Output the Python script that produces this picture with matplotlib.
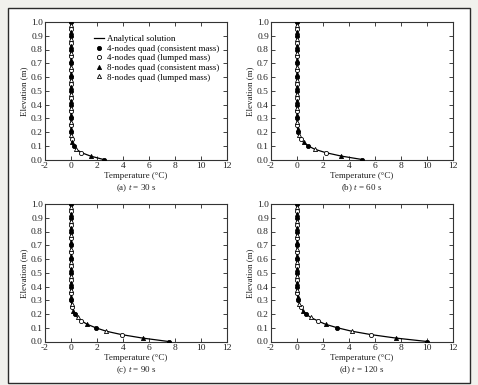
import numpy as np
import matplotlib
matplotlib.use("Agg")
import matplotlib.pyplot as plt
from matplotlib.patches import Rectangle

plt.rcParams['font.family'] = ['Liberation Serif', 'DejaVu Serif']
plt.rcParams['mathtext.fontset'] = 'custom'
plt.rcParams['mathtext.rm'] = 'Liberation Serif'
plt.rcParams['mathtext.it'] = 'Liberation Serif:italic'

# Elevation grid (m), 0.025 m spacing
elevation = [round(0.025 * i, 3) for i in range(41)]

# Temperatures (deg C) at each elevation
temp_30 = [2.5, 1.5, 0.8, 0.4, 0.2, 0.1, 0.05, 0.02, 0.01, 0.0,
           0, 0, 0, 0, 0, 0, 0, 0, 0, 0,
           0, 0, 0, 0, 0, 0, 0, 0, 0, 0,
           0, 0, 0, 0, 0, 0, 0, 0, 0, 0, 0]
temp_60 = [5.0, 3.4, 2.2, 1.35, 0.85, 0.5, 0.3, 0.15, 0.08, 0.04,
           0.02, 0.01, 0, 0, 0, 0, 0, 0, 0, 0,
           0, 0, 0, 0, 0, 0, 0, 0, 0, 0,
           0, 0, 0, 0, 0, 0, 0, 0, 0, 0, 0]
temp_90 = [7.5, 5.5, 3.9, 2.7, 1.9, 1.25, 0.8, 0.5, 0.3, 0.18,
           0.1, 0.05, 0.02, 0.01, 0, 0, 0, 0, 0, 0,
           0, 0, 0, 0, 0, 0, 0, 0, 0, 0,
           0, 0, 0, 0, 0, 0, 0, 0, 0, 0, 0]
temp_120 = [10.0, 7.6, 5.7, 4.2, 3.1, 2.2, 1.6, 1.05, 0.7, 0.45,
            0.3, 0.18, 0.1, 0.05, 0.03, 0.01, 0, 0, 0, 0,
            0, 0, 0, 0, 0, 0, 0, 0, 0, 0,
            0, 0, 0, 0, 0, 0, 0, 0, 0, 0, 0]

captions = ["(a) $t$ = 30 s", "(b) $t$ = 60 s", "(c) $t$ = 90 s", "(d) $t$ = 120 s"]
series_labels = ["Analytical solution",
                 "4-nodes quad (consistent mass)",
                 "4-nodes quad (lumped mass)",
                 "8-nodes quad (consistent mass)",
                 "8-nodes quad (lumped mass)"]
x_ticks = [-2, 0, 2, 4, 6, 8, 10, 12]
y_ticks = [0.0, 0.1, 0.2, 0.3, 0.4, 0.5, 0.6, 0.7, 0.8, 0.9, 1.0]

W, H = 478, 385
fig = plt.figure(figsize=(W / 100, H / 100), dpi=100)
fig.patch.set_facecolor('#f1f1ed')
box = Rectangle((8 / W, 1 - 383 / H), (470 - 8) / W, (383 - 8) / H,
                transform=fig.transFigure, facecolor='white',
                edgecolor='#2b2b2b', linewidth=1.0, zorder=-10)
fig.add_artist(box)

panels = [temp_30, temp_60, temp_90, temp_120]
lefts = [45, 271, 45, 271]
tops = [22, 22, 204, 204]
aw, ah = 182, 137.5

z = np.array(elevation)
for k, temps in enumerate(panels):
    T = np.array(temps)
    ax = fig.add_axes([lefts[k] / W, 1 - (tops[k] + ah) / H, aw / W, ah / H])
    ax.set_zorder(1)
    ax.patch.set_alpha(0)
    ax.plot(T, z, color='black', lw=0.9, label=series_labels[0], zorder=2)
    idx = np.arange(len(z))
    m1 = idx % 4 == 0
    m2 = idx % 4 == 2
    m3 = idx % 4 == 1
    m4 = idx % 4 == 3
    ax.plot(T[m1], z[m1], 'o', ms=3.0, mfc='black', mec='black', mew=0.6,
            ls='none', label=series_labels[1], zorder=3)
    ax.plot(T[m2], z[m2], 'o', ms=3.0, mfc='white', mec='black', mew=0.6,
            ls='none', label=series_labels[2], zorder=3)
    ax.plot(T[m3], z[m3], '^', ms=3.0, mfc='black', mec='black', mew=0.6,
            ls='none', label=series_labels[3], zorder=3)
    ax.plot(T[m4], z[m4], '^', ms=3.0, mfc='white', mec='black', mew=0.6,
            ls='none', label=series_labels[4], zorder=3)
    ax.set_xlim(-2, 12)
    ax.set_ylim(0, 1.0)
    ax.set_xticks(x_ticks)
    ax.set_yticks(y_ticks)
    ax.set_xticklabels([str(v) for v in x_ticks])
    ax.set_yticklabels([f"{v:.1f}" for v in y_ticks])
    ax.tick_params(direction='in', top=True, right=True, length=3, width=0.6,
                   labelsize=6.8, pad=1.5, colors='#222222')
    for s in ax.spines.values():
        s.set_linewidth(0.8)
        s.set_color('#333333')
    ax.set_xlabel("Temperature (°C)", fontsize=6.5, labelpad=1.5, color='#222222')
    ax.set_ylabel("Elevation (m)", fontsize=6.5, labelpad=2, color='#222222')
    ax.text(0.5, -0.205, captions[k], transform=ax.transAxes, ha='center',
            va='center', fontsize=6.5, color='#222222')
    if k == 0:
        ax.legend(loc='upper left', bbox_to_anchor=(0.27, 0.905), frameon=False,
                  fontsize=6.4, handlelength=1.1, handletextpad=0.3,
                  borderpad=0, labelspacing=0.15, borderaxespad=0)

fig.savefig("out.png", dpi=100, facecolor=fig.get_facecolor())
